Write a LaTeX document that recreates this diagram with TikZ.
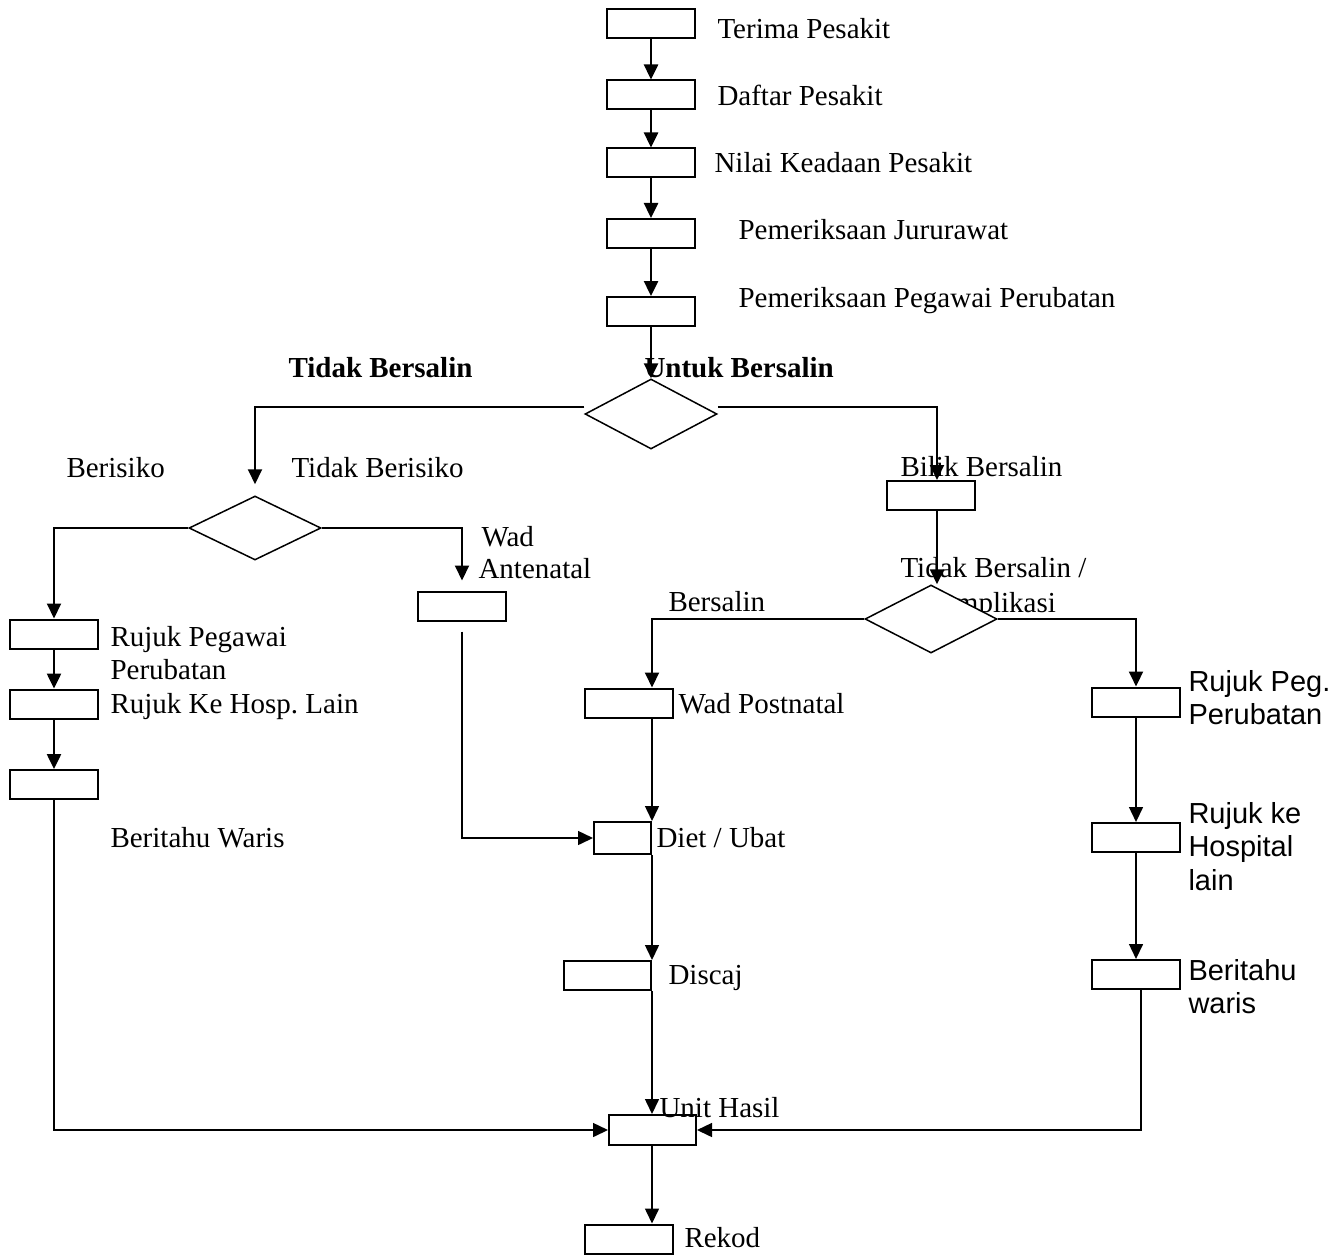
\documentclass[tikz,border=0pt]{standalone}
\usepackage{fontspec}
\setmainfont{Liberation Serif}
\setsansfont{Liberation Sans}
\usepackage{tikz}
\usetikzlibrary{shapes.geometric, arrows.meta, positioning}

\begin{document}
\begin{tikzpicture}[
  x=0.4pt, y=-0.4pt,
  font=\fontsize{11.6pt}{13pt}\selectfont,
  box/.style={draw, line width=0.8pt, minimum width=35.2pt, minimum height=11.6pt, inner sep=0pt},
  decision/.style={diamond, draw, fill=white, line width=0.6pt, minimum width=52.8pt, minimum height=27.2pt, inner sep=0pt},
  lbl/.style={anchor=base west, inner sep=0pt},
  slbl/.style={lbl, font=\sffamily\fontsize{11.6pt}{13pt}\selectfont},
  arr/.style={line width=1pt, -{Triangle[length=6pt,width=5.6pt]}},
  line/.style={line width=0.8pt, -{Triangle[length=6pt,width=5.6pt]}},
  thinline/.style={line width=0.6pt, -{Triangle[length=6pt,width=5.6pt]}}
]
\useasboundingbox (0,0) rectangle (1343,1258);

% main column
\node[box] (terima) at (651,23.5) {};
\node[box] (daftar) at (651,95) {};
\node[box] (nilai) at (651,163) {};
\node[box] (jururawat) at (651,233.5) {};
\node[box] (pegawai) at (651,311.5) {};
\coordinate (spine) at (652,0);

% labels
\node[lbl] (tTerima) at (717,39) {Terima Pesakit};
\node[lbl] (tDaftar) at (717,106) {Daftar Pesakit};
\node[lbl] (tNilai) at (714,173) {Nilai Keadaan Pesakit};
\node[lbl] (tJuru) at (738,240) {Pemeriksaan Jururawat};
\node[lbl] (tPeg) at (738,307) {Pemeriksaan Pegawai Perubatan};
\node[lbl, font=\bfseries\fontsize{11.6pt}{13pt}\selectfont] (tTidakB) at (288,377) {Tidak Bersalin};
\node[lbl, font=\bfseries\fontsize{11.6pt}{13pt}\selectfont] (tUntuk) at (644,377) {Untuk Bersalin};
\node[lbl] (tBerisiko) at (66,477) {Berisiko};
\node[lbl] (tTBerisiko) at (291,477) {Tidak Berisiko};
\node[lbl] (tWad) at (481,546) {Wad};
\node[lbl] (tAnte) at (478,578) {Antenatal};
\node[lbl] (tBilik) at (900,476) {Bilik Bersalin};
\node[lbl] (tTBers) at (900,577) {Tidak Bersalin /};
\node[lbl] (tKomp) at (920,612) {Komplikasi};
\node[lbl] (tBers) at (668,611) {Bersalin};
\node[lbl] (tRujuk1) at (110,646) {Rujuk Pegawai};
\node[lbl] (tRujuk2) at (110,679) {Perubatan};
\node[lbl] (tHosp) at (110,713) {Rujuk Ke Hosp.\ Lain};
\node[lbl] (tWaris) at (110,847) {Beritahu Waris};
\node[lbl] (tPost) at (678,713) {Wad Postnatal};
\node[lbl] (tDiet) at (656,847) {Diet / Ubat};
\node[lbl] (tDiscaj) at (668,984) {Discaj};
\node[lbl] (tUnit) at (659,1117) {Unit Hasil};
\node[lbl] (tRekod) at (684,1247) {Rekod};
\node[slbl] (tRPeg1) at (1188,691) {Rujuk Peg.};
\node[slbl] (tRPeg2) at (1188,724) {Perubatan};
\node[slbl] (tRHos1) at (1188,823) {Rujuk ke};
\node[slbl] (tRHos2) at (1188,856) {Hospital};
\node[slbl] (tRHos3) at (1188,890) {lain};
\node[slbl] (tRWar1) at (1188,980) {Beritahu};
\node[slbl] (tRWar2) at (1188,1013) {waris};

% decisions
\node[decision, minimum height=28pt] (bersalin) at (651,414) {};
\node[decision, minimum height=25.6pt] (risiko) at (255,528) {};
\node[decision] (komplikasi) at (931,619) {};

% branches
\node[box] (bilik) at (931,495.5) {};
\node[box] (antenatal) at (462,606) {};
\node[box] (rujukpeg) at (54,634) {};
\node[box] (rujukhosp) at (54,704) {};
\node[box] (waris) at (54,784.5) {};
\node[box] (postnatal) at (629,703) {};
\node[box, minimum width=22.8pt, minimum height=12.8pt] (diet) at (622.5,838) {};
\node[box, minimum width=34.8pt] (discaj) at (607.5,975.5) {};
\node[box, minimum width=34.8pt, minimum height=12pt] (unit) at (652.5,1130) {};
\node[box] (rekod) at (629,1239) {};
\node[box] (rpeg) at (1136,702) {};
\node[box] (rhosp) at (1136,837.5) {};
\node[box] (rwaris) at (1136,974.5) {};

\draw[arr] (terima) -- (daftar);
\draw[arr] (daftar) -- (nilai);
\draw[arr] (nilai) -- (jururawat);
\draw[arr] (jururawat) -- (pegawai);
\draw[arr] (pegawai) -- (bersalin);

\draw[line] ([yshift=2.8pt]bersalin.west) -| ([yshift=4.4pt]risiko.north);
\draw[line] ([yshift=2.8pt]bersalin.east) -| ([xshift=2.4pt]bilik.north);
\draw[arr] ([xshift=2.4pt]bilik.south) -- ([xshift=2.4pt]bilik.south |- komplikasi.north);

\draw[line] (risiko.west) -| (rujukpeg.north);
\draw[line] (risiko.east) -| ([yshift=4pt]antenatal.north);
\draw[arr] (rujukpeg) -- (rujukhosp);
\draw[arr] (rujukhosp) -- (waris);
\draw[thinline] (waris.south) |- (unit.west);
\draw[thinline] ([yshift=-4pt]antenatal.south) |- (diet.west);

\draw[line] (komplikasi.west) -| (postnatal.north -| spine);
\draw[line] (komplikasi.east) -| (rpeg.north);
\draw[thinline] (postnatal.south -| spine) -- (diet.north -| spine);
\draw[thinline] (diet.south -| spine) -- (discaj.north -| spine);
\draw[thinline] (discaj.south -| spine) -- (unit.north -| spine);
\draw[thinline] (unit.south -| spine) -- (rekod.north -| spine);

\draw[thinline] (rpeg) -- (rhosp);
\draw[thinline] (rhosp) -- (rwaris);
\draw[thinline] ([xshift=2pt]rwaris.south) |- (unit.east);
\end{tikzpicture}
\end{document}
